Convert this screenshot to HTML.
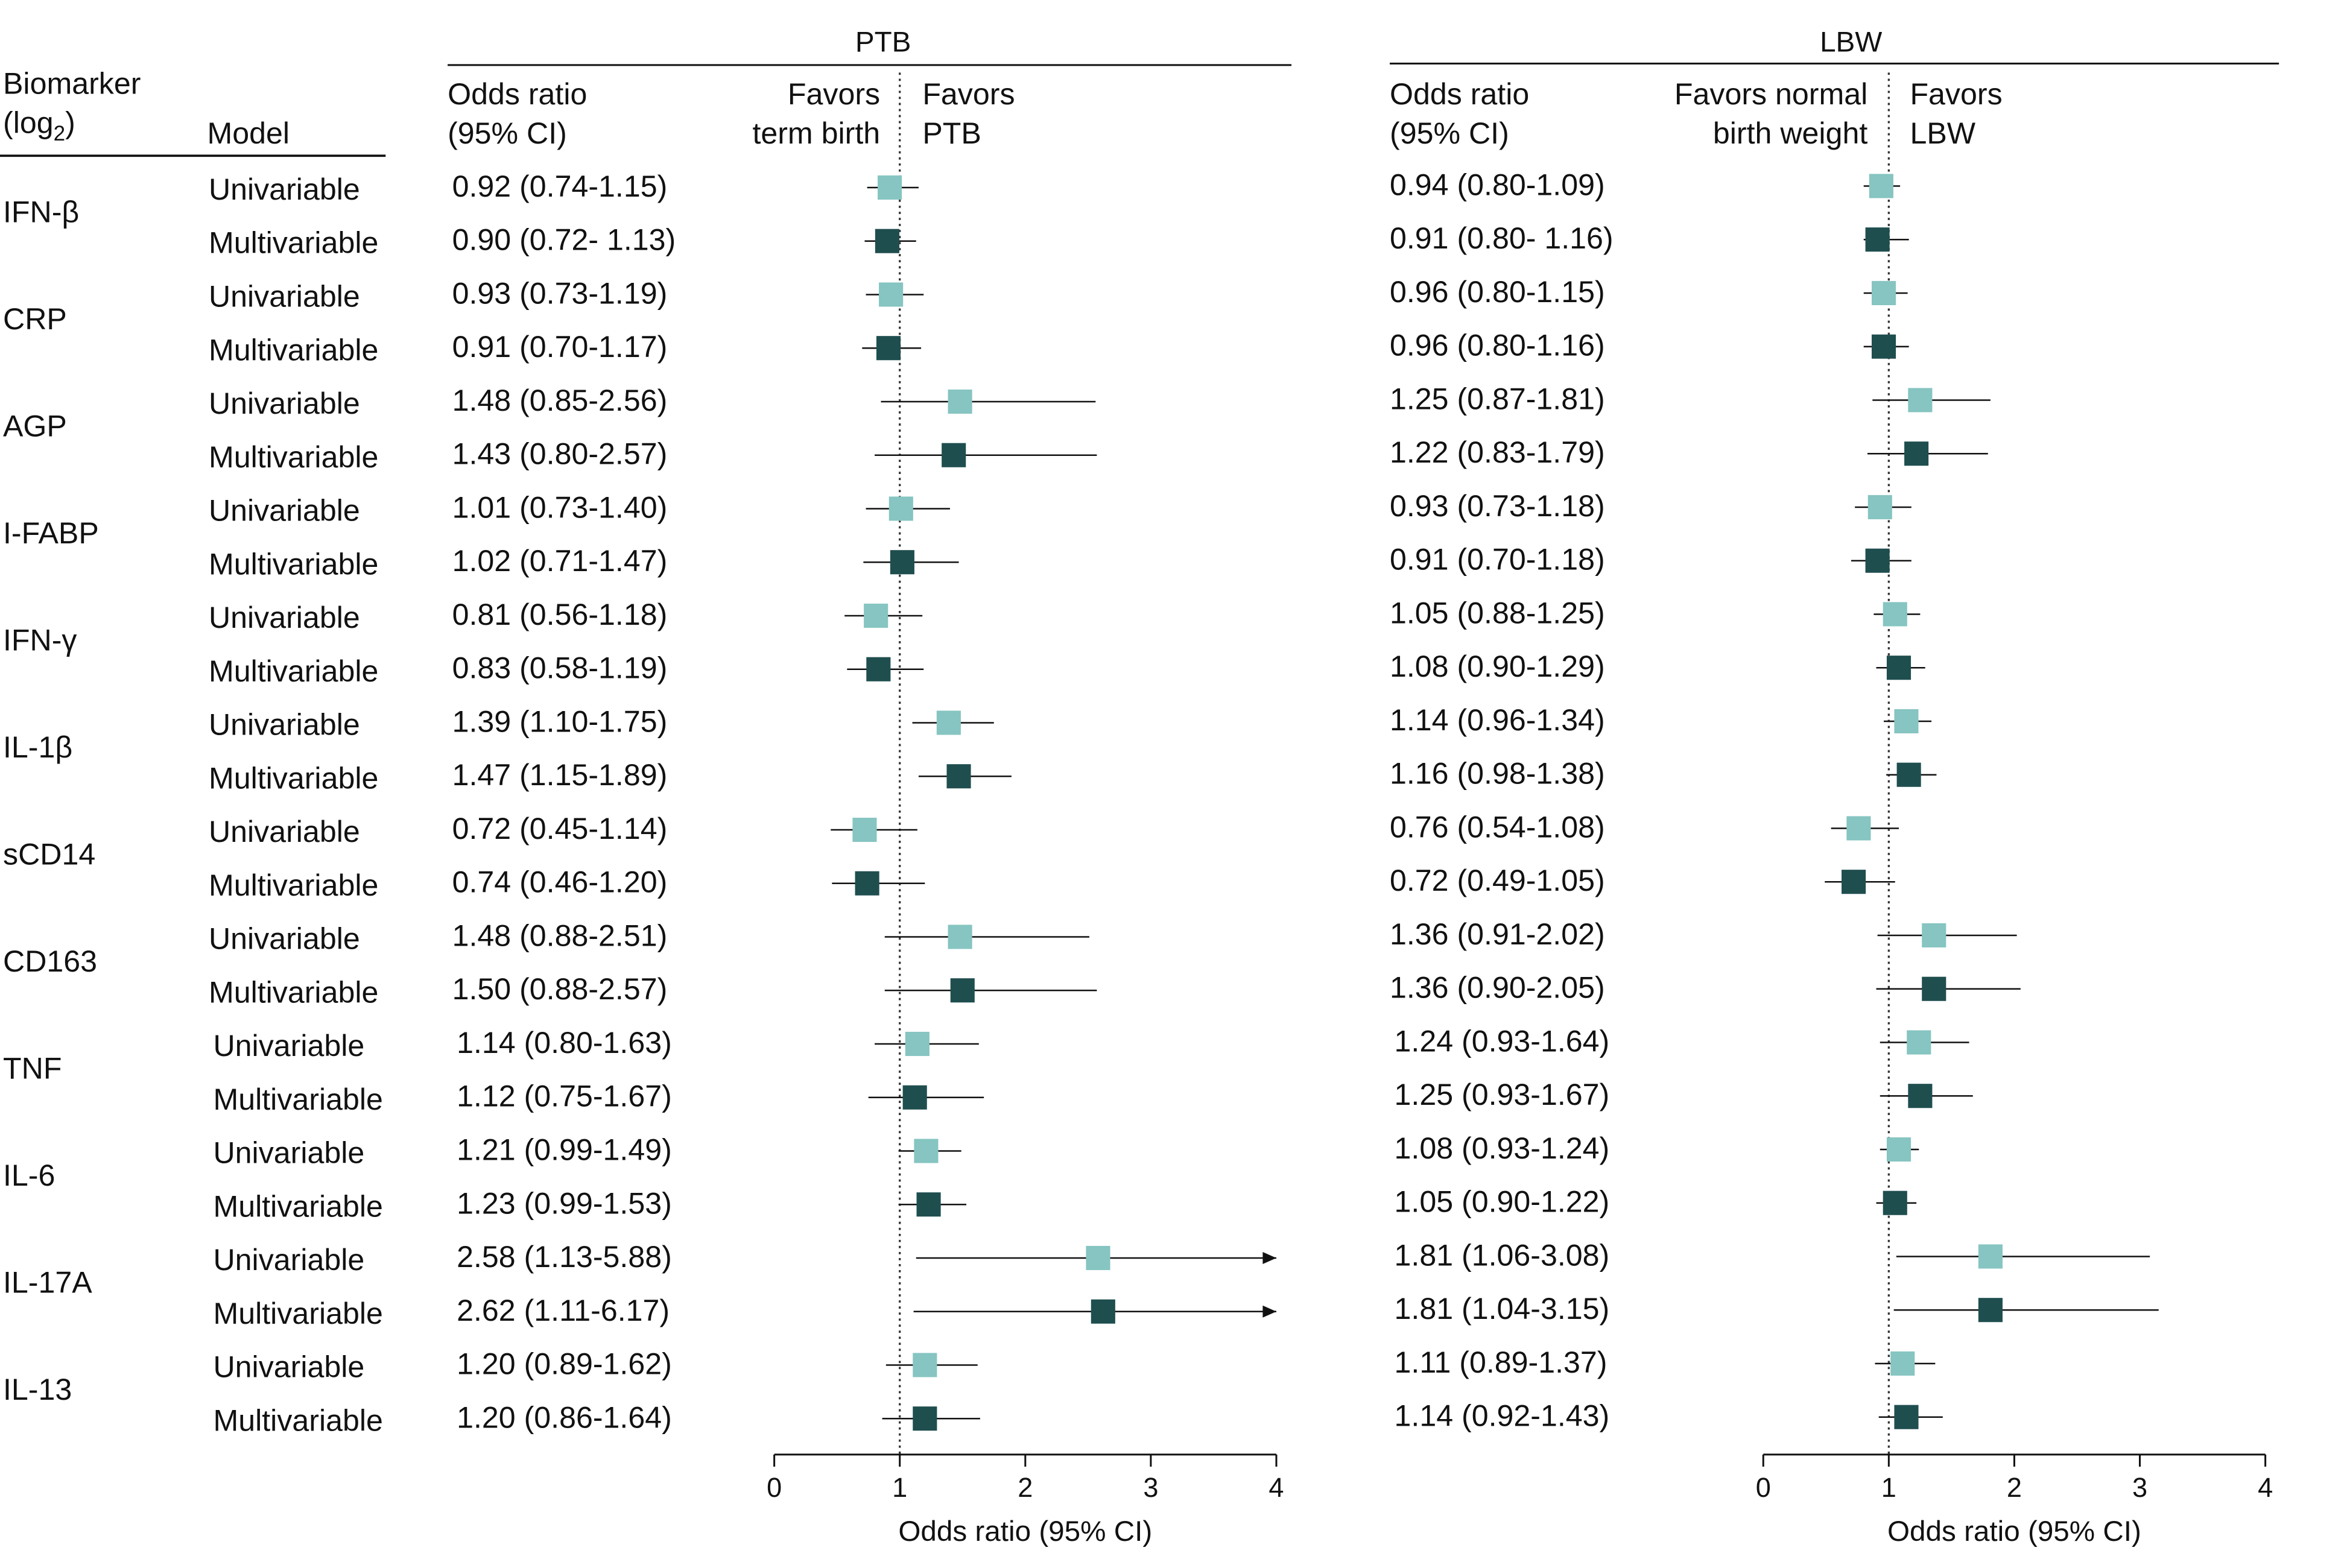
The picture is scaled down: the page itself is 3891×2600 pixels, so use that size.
<!DOCTYPE html>
<html><head><meta charset="utf-8"><style>
html,body{margin:0;padding:0;background:#fff;}
svg{display:block;font-family:"Liberation Sans",sans-serif;}
</style></head><body>
<svg id="chart" width="3891" height="2600" viewBox="0 0 1552 1037" xmlns="http://www.w3.org/2000/svg">
<g font-size="20" fill="#111">
<text x="584" y="34" text-anchor="middle" font-size="19">PTB</text>
<line x1="296" y1="43" x2="854" y2="43" stroke="#111" stroke-width="1.2"/>
<text x="1224" y="34" text-anchor="middle" font-size="19">LBW</text>
<line x1="919" y1="42" x2="1507" y2="42" stroke="#111" stroke-width="1.2"/>
<text x="2" y="62">Biomarker</text>
<text x="2" y="88">(log<tspan font-size="14" dy="5">2</tspan><tspan dy="-5">)</tspan></text>
<text x="137" y="95">Model</text>
<line x1="0" y1="103" x2="255" y2="103" stroke="#111" stroke-width="1.5"/>
<text x="296" y="69">Odds ratio</text><text x="296" y="95">(95% CI)</text>
<text x="582" y="69" text-anchor="end">Favors</text><text x="582" y="95" text-anchor="end">term birth</text>
<text x="610" y="69">Favors</text><text x="610" y="95">PTB</text>
<text x="919" y="69">Odds ratio</text><text x="919" y="95">(95% CI)</text>
<text x="1235" y="69" text-anchor="end">Favors normal</text><text x="1235" y="95" text-anchor="end">birth weight</text>
<text x="1263" y="69">Favors</text><text x="1263" y="95">LBW</text>
</g>
<g id="rows"></g>
</svg>
<script>
const biomarkers=["IFN-β","CRP","AGP","I-FABP","IFN-γ","IL-1β","sCD14","CD163","TNF","IL-6","IL-17A","IL-13"];
const models=["Univariable","Multivariable"];
const ptbOR=[0.92,0.90,0.93,0.91,1.48,1.43,1.01,1.02,0.81,0.83,1.39,1.47,0.72,0.74,1.48,1.50,1.14,1.12,1.21,1.23,2.58,2.62,1.20,1.20];
const ptbLo=[0.74,0.72,0.73,0.70,0.85,0.80,0.73,0.71,0.56,0.58,1.10,1.15,0.45,0.46,0.88,0.88,0.80,0.75,0.99,0.99,1.13,1.11,0.89,0.86];
const ptbHi=[1.15,1.13,1.19,1.17,2.56,2.57,1.40,1.47,1.18,1.19,1.75,1.89,1.14,1.20,2.51,2.57,1.63,1.67,1.49,1.53,5.88,6.17,1.62,1.64];
const ptbLabels=["0.92 (0.74-1.15)","0.90 (0.72- 1.13)","0.93 (0.73-1.19)","0.91 (0.70-1.17)","1.48 (0.85-2.56)","1.43 (0.80-2.57)","1.01 (0.73-1.40)","1.02 (0.71-1.47)","0.81 (0.56-1.18)","0.83 (0.58-1.19)","1.39 (1.10-1.75)","1.47 (1.15-1.89)","0.72 (0.45-1.14)","0.74 (0.46-1.20)","1.48 (0.88-2.51)","1.50 (0.88-2.57)","1.14 (0.80-1.63)","1.12 (0.75-1.67)","1.21 (0.99-1.49)","1.23 (0.99-1.53)","2.58 (1.13-5.88)","2.62 (1.11-6.17)","1.20 (0.89-1.62)","1.20 (0.86-1.64)"];
const lbwOR=[0.94,0.91,0.96,0.96,1.25,1.22,0.93,0.91,1.05,1.08,1.14,1.16,0.76,0.72,1.36,1.36,1.24,1.25,1.08,1.05,1.81,1.81,1.11,1.14];
const lbwLo=[0.80,0.80,0.80,0.80,0.87,0.83,0.73,0.70,0.88,0.90,0.96,0.98,0.54,0.49,0.91,0.90,0.93,0.93,0.93,0.90,1.06,1.04,0.89,0.92];
const lbwHi=[1.09,1.16,1.15,1.16,1.81,1.79,1.18,1.18,1.25,1.29,1.34,1.38,1.08,1.05,2.02,2.05,1.64,1.67,1.24,1.22,3.08,3.15,1.37,1.43];
const lbwLabels=["0.94 (0.80-1.09)","0.91 (0.80- 1.16)","0.96 (0.80-1.15)","0.96 (0.80-1.16)","1.25 (0.87-1.81)","1.22 (0.83-1.79)","0.93 (0.73-1.18)","0.91 (0.70-1.18)","1.05 (0.88-1.25)","1.08 (0.90-1.29)","1.14 (0.96-1.34)","1.16 (0.98-1.38)","0.76 (0.54-1.08)","0.72 (0.49-1.05)","1.36 (0.91-2.02)","1.36 (0.90-2.05)","1.24 (0.93-1.64)","1.25 (0.93-1.67)","1.08 (0.93-1.24)","1.05 (0.90-1.22)","1.81 (1.06-3.08)","1.81 (1.04-3.15)","1.11 (0.89-1.37)","1.14 (0.92-1.43)"];
const ticks=[0,1,2,3,4];
const NS="http://www.w3.org/2000/svg";
const root=document.getElementById('rows');
function el(t,a,p){const e=document.createElementNS(NS,t);for(const k in a)e.setAttribute(k,a[k]);(p||root).appendChild(e);return e;}
const xP=v=>512+83*v, xL=v=>1166+83*v, rowY=i=>124+35.4*i;
const colors=["#86C5C1","#1F4E4F"];
function panel(sx,or,lo,hi,labels,lx,name,dy){
  const g=el('g',{});
  
  
  const dl=el('line',{x1:sx(1),x2:sx(1),y1:48,y2:962,stroke:'#333','stroke-width':1.3,'stroke-dasharray':'1.5 2.5'},g);
  
  
  const ax=el('line',{x1:sx(0),x2:sx(4),y1:962,y2:962,stroke:'#111','stroke-width':1.2},g);
  
  
  ticks.forEach(t=>{
    el('line',{x1:sx(t),x2:sx(t),y1:962,y2:970,stroke:'#111','stroke-width':1.2},g);
    const tl=el('text',{x:sx(t),y:990,'text-anchor':'middle','font-size':18,fill:'#111'},g);tl.textContent=t;
    
    
  });
  const at=el('text',{x:sx(2),y:1019,'text-anchor':'middle','font-size':19,fill:'#111'},g);at.textContent='Odds ratio (95% CI)';
  
  
  or.forEach((v,i)=>{
    const y=rowY(i)+dy;
    const tx=el('text',{x:lx+(i>=16?3:0),y:rowY(i)+dy+6,'font-size':20,fill:'#111'},g);tx.textContent=labels[i];
    
    
    const x2=Math.min(sx(hi[i]),sx(4));
    const ln=el('line',{x1:sx(lo[i]),x2:x2,y1:y,y2:y,stroke:'#111','stroke-width':1},g);
    
    
    if(hi[i]>4){
      const ar=el('path',{d:`M${x2} ${y} l-9 -4 v8 z`,fill:'#111'},g);
      
      
    }
    const s=16;
    const r=el('rect',{x:sx(v)-s/2,y:y-s/2,width:s,height:s,fill:colors[i%2]},g);
    
    
  });
}
biomarkers.forEach((b,k)=>{
  const t=el('text',{x:2,y:rowY(2*k)+23,'font-size':20,fill:'#111'});t.textContent=b;
  
  
  models.forEach((m,j)=>{
    const i=2*k+j;
    const mt=el('text',{x:i>=16?141:138,y:rowY(i)+8,'font-size':20,fill:'#111'});mt.textContent=m;
    
    
  });
});
panel(xP,ptbOR,ptbLo,ptbHi,ptbLabels,299,'ptb',0);
panel(xL,lbwOR,lbwLo,lbwHi,lbwLabels,919,'lbw',-1);
</script>
</body></html>
